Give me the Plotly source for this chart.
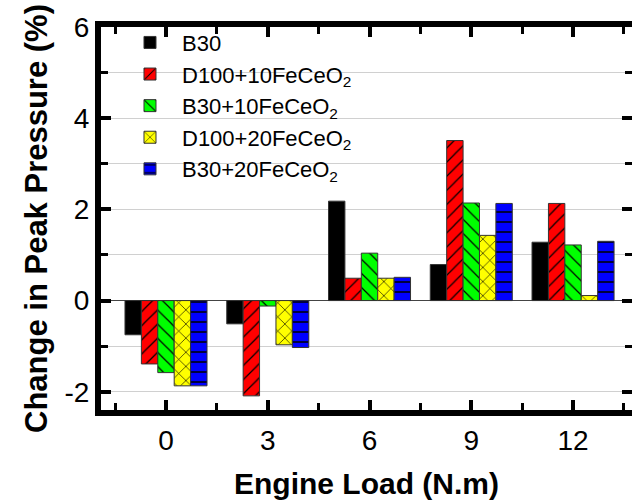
import plotly.graph_objects as go

loads = [0, 3, 6, 9, 12]
series_names = ["B30", "D100+10FeCeO<sub>2</sub>", "B30+10FeCeO<sub>2</sub>",
                "D100+20FeCeO<sub>2</sub>", "B30+20FeCeO<sub>2</sub>"]
b30 = [-0.75, -0.51, 2.18, 0.79, 1.28]
d100_10 = [-1.39, -2.09, 0.49, 3.51, 2.13]
b30_10 = [-1.58, -0.12, 1.04, 2.14, 1.22]
d100_20 = [-1.87, -0.97, 0.49, 1.43, 0.11]
b30_20 = [-1.87, -1.03, 0.51, 2.13, 1.30]
y_ticks = [-2, 0, 2, 4, 6]
y_ticktext = ["-2", "0", "2", "4", "6"]

values = [b30, d100_10, b30_10, d100_20, b30_20]
colors = ["#000000", "#ff0000", "#00ff00", "#ffff00", "#0000ff"]
patterns = ["", "/", "\\", "x", "-"]
psizes = [8, 10, 10, 10, 10]
psol = [0.2, 0.12, 0.12, 0.12, 0.15]

FONT = "Arial, 'Liberation Sans', sans-serif"

fig = go.Figure()
for name, v, c, p, s, so in zip(series_names, values, colors, patterns, psizes, psol):
    fig.add_trace(go.Bar(
        x=loads, y=v, name=name,
        marker=dict(color=c, line=dict(color="#333333", width=1),
                    pattern=dict(shape=p, fgcolor="#000000", bgcolor=c,
                                 fillmode="replace", size=s, solidity=so)),
    ))

fig.update_layout(
    template="none",
    width=632, height=500,
    margin=dict(l=101, r=0, t=27, b=90),
    paper_bgcolor="white", plot_bgcolor="white",
    barmode="group", bargap=0.194, bargroupgap=0,
    font=dict(family=FONT, color="black", size=28),
    showlegend=True,
    legend=dict(x=0.032, y=1.014, xanchor="left", yanchor="top",
                bgcolor="rgba(0,0,0,0)", font=dict(size=22, family=FONT),
                itemwidth=54, tracegroupgap=0),
    xaxis=dict(
        range=[-1.916, 13.738], tickmode="array", tickvals=loads,
        ticks="inside", ticklen=10, tickwidth=4, tickcolor="black",
        showline=True, linewidth=6, linecolor="black", mirror="allticks",
        showgrid=False, zeroline=False, automargin=False,
        minor=dict(tickmode="array", tickvals=[-1.5, 1.5, 4.5, 7.5, 10.5, 13.5],
                   ticks="inside", ticklen=7, tickwidth=3, tickcolor="black"),
        tickfont=dict(size=28),
        title=dict(text="<b>Engine Load (N.m)</b>", font=dict(size=30), standoff=22),
    ),
    yaxis=dict(
        range=[-2.40, 6], tickmode="array", tickvals=y_ticks, ticktext=y_ticktext,
        ticks="inside", ticklen=10, tickwidth=4, tickcolor="black",
        showline=True, linewidth=6, linecolor="black", mirror="allticks",
        showgrid=True, gridcolor="#d0d0d0", gridwidth=1,
        zeroline=True, zerolinecolor="#444444", zerolinewidth=1, automargin=False,
        minor=dict(dtick=1, tick0=0, ticks="inside", ticklen=7, tickwidth=3,
                   tickcolor="black", showgrid=True, gridcolor="#d0d0d0", gridwidth=1),
        tickfont=dict(size=28),
        title=dict(text="<b>Change in Peak Pressure (%)</b>", font=dict(size=31), standoff=10),
    ),
)

fig.write_html("out.html")
